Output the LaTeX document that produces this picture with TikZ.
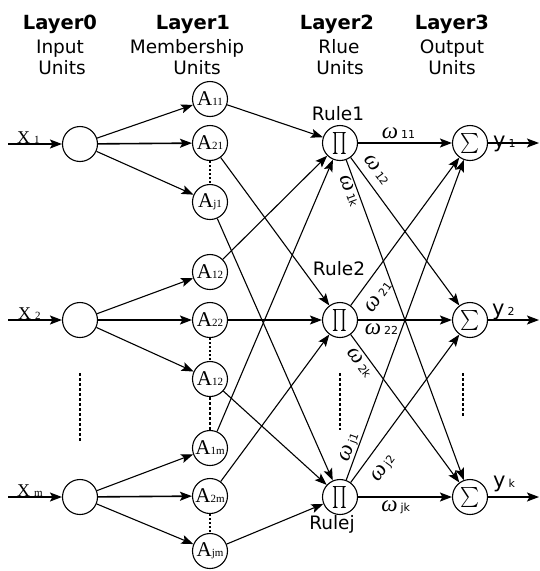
\documentclass[tikz,border=0pt]{standalone}
\usepackage{fontspec}
\setmainfont{DejaVu Sans}
\newfontfamily\serifA{Liberation Serif}
\usetikzlibrary{arrows.meta}
\newcommand\Alab[1]{{\serifA\fontsize{21}{21}\selectfont A}{\serifA\fontsize{11}{11}\selectfont #1}}
\newcommand\wlab[1]{{\serifA\itshape\fontsize{23}{23}\selectfont ω}\hspace{3pt}{\fontsize{11}{11}\selectfont #1}}
\newcommand\Xlab[1]{{\serifA\fontsize{18}{18}\selectfont X}\hspace{4pt}{\serifA\fontsize{11}{11}\selectfont #1}}
\newcommand\Ylab[1]{{\fontsize{21}{21}\selectfont y}\hspace{3pt}{\fontsize{11}{11}\selectfont #1}}
\begin{document}
\begin{tikzpicture}[x=1pt,y=-1pt,
  unit/.style={circle,draw,line width=1.1pt,minimum size=35pt,inner sep=0pt},
  conn/.style={line width=1.1pt,-{Stealth[length=12pt,width=9pt,inset=2.5pt]}},
  thickconn/.style={conn,line width=1.6pt},
  wl/.style={sloped,inner sep=1pt},
  dotsv/.style={line width=1.2pt,dash pattern=on 1.5pt off 2.5pt},
  dashv/.style={line width=1.1pt,dash pattern=on 3pt off 2pt},
  hdr/.style={anchor=base,font=\fontsize{19.5}{19.5}\selectfont\bfseries},
  sub/.style={anchor=base,font=\fontsize{18.5}{18.5}\selectfont},
  lab/.style={anchor=base west,inner sep=0pt},
]
\useasboundingbox (0,0) rectangle (539,571);
% headers
\node[hdr] (h0) at (60,29) {Layer0};
\node[sub] (h0a) at (60,53) {Input};
\node[sub] (h0b) at (62,74) {Units};
\node[hdr] (h1) at (193,29) {Layer1};
\node[sub] (h1a) at (187,53) {Membership};
\node[sub] (h1b) at (197,74) {Units};
\node[hdr] (h2) at (337,29) {Layer2};
\node[sub] (h2a) at (339,53) {Rlue};
\node[sub] (h2b) at (340,74) {Units};
\node[hdr] (h3) at (452,29) {Layer3};
\node[sub] (h3a) at (452,53) {Output};
\node[sub] (h3b) at (452,74) {Units};
% input nodes
\node[unit] (in1) at (80,144) {};
\node[unit] (in2) at (80,320) {};
\node[unit] (in3) at (80,497) {};
% membership nodes
\node[unit] (a11) at (210,99) {\Alab{11}};
\node[unit] (a21) at (210,143) {\Alab{21}};
\node[unit] (aj1) at (210,202) {\Alab{j1}};
\node[unit] (a12) at (210,272) {\Alab{12}};
\node[unit] (a22) at (210,320) {\Alab{22}};
\node[unit] (aj2) at (210,379) {\Alab{12}};
\node[unit] (a1m) at (210,448) {\Alab{1m}};
\node[unit] (a2m) at (210,496) {\Alab{2m}};
\node[unit] (ajm) at (210,551) {\Alab{jm}};
% rule nodes
\node[unit] (r1) at (340,143) {\scalebox{1.55}[2.2]{$\prod$}};
\node[unit] (r2) at (340,320) {\scalebox{1.55}[2.2]{$\prod$}};
\node[unit] (r3) at (340,497) {\scalebox{1.55}[2.2]{$\prod$}};
% sum nodes
\node[unit] (s1) at (470,143) {\scalebox{1.8}[2.0]{$\sum$}};
\node[unit] (s2) at (470,320) {\scalebox{1.8}[2.0]{$\sum$}};
\node[unit] (s3) at (470,497) {\scalebox{1.8}[2.0]{$\sum$}};
% rule labels
\node[sub,font=\fontsize{18.5}{18.5}\selectfont] (rl1) at (338,120) {Rule1};
\node[sub,font=\fontsize{18.5}{18.5}\selectfont] (rl2) at (339,275) {Rule2};
\node[sub,font=\fontsize{18.5}{18.5}\selectfont] (rl3) at (332,529) {Rulej};
% input / output labels
\node[lab] (xl1) at (17,143) {\Xlab{1}};
\node[lab] (xl2) at (18,319) {\Xlab{2}};
\node[lab] (xl3) at (17,496) {\Xlab{m}};
\node[lab] (yl1) at (493,147) {\Ylab{1}};
\node[lab] (yl2) at (492,315) {\Ylab{2}};
\node[lab] (yl3) at (493,487) {\Ylab{k}};
% free ends
\coordinate (xs1) at (8,144);
\coordinate (xs2) at (8,320);
\coordinate (xs3) at (8,497);
\coordinate (ye1) at (539,143);
\coordinate (ye2) at (539,320);
\coordinate (ye3) at (539,497);
% input arrows
\draw[thickconn] (xs1) -- (in1);
\draw[thickconn] (xs2) -- (in2);
\draw[thickconn] (xs3) -- (in3);
% input -> membership
\draw[conn] (in1) -- (a11);
\draw[thickconn] (in1) -- (a21);
\draw[conn] (in1) -- (aj1);
\draw[conn] (in2) -- (a12);
\draw[thickconn] (in2) -- (a22);
\draw[conn] (in2) -- (aj2);
\draw[conn] (in3) -- (a1m);
\draw[thickconn] (in3) -- (a2m);
\draw[conn] (in3) -- (ajm);
% membership -> rule
\draw[conn] (a11) -- (r1);
\draw[conn] (a21) -- (r2);
\draw[conn] (aj1) -- (r3);
\draw[conn] (a12) -- (r1);
\draw[conn] (a22) -- (r2);
\draw[conn] (aj2) -- (r3);
\draw[conn] (a1m) -- (r1);
\draw[conn] (a2m) -- (r2);
\draw[conn] (ajm) -- (r3);
% rule -> sum
\draw[thickconn] (r1) -- node[wl,pos=0.43,above=2.5pt] {\wlab{11}} (s1);
\draw[conn] (r1) -- node[wl,pos=0.14,above=7pt] {\wlab{12}} (s2);
\draw[conn] (r1) -- node[wl,pos=0.088,below=0pt] {\wlab{1k}} (s3);
\draw[conn] (r2) -- node[wl,pos=0.128,below=10pt] {\wlab{21}} (s1);
\draw[thickconn] (r2) -- node[wl,pos=0.25,below=1.5pt] {\wlab{22}} (s2);
\draw[conn] (r2) -- node[wl,pos=0.153,below=2pt] {\wlab{2k}} (s3);
\draw[conn] (r3) -- node[wl,pos=0.095,above=0pt] {\wlab{j1}} (s1);
\draw[conn] (r3) -- node[wl,pos=0.167,below=10pt] {\wlab{j2}} (s2);
\draw[thickconn] (r3) -- node[wl,pos=0.4,below=1.5pt] {\wlab{jk}} (s3);
% outputs
\draw[conn] (s1) -- (ye1);
\draw[conn] (s2) -- (ye2);
\draw[conn] (s3) -- (ye3);
% dotted links between membership units
\draw[dotsv] (a21) -- (aj1);
\draw[dotsv] (a22) -- (aj2);
\draw[dashv] (aj2) -- (a1m);
\draw[dotsv] (a2m) -- (ajm);
% vertical ellipsis lines
\coordinate (d1a) at (80,373); \coordinate (d1b) at (80,442);
\coordinate (d2a) at (340,373); \coordinate (d2b) at (340,430);
\coordinate (d3a) at (463,373); \coordinate (d3b) at (463,417);
\draw[dashv] (d1a) -- (d1b);
\draw[dashv] (d2a) -- (d2b);
\draw[dashv] (d3a) -- (d3b);
\end{tikzpicture}
\end{document}
